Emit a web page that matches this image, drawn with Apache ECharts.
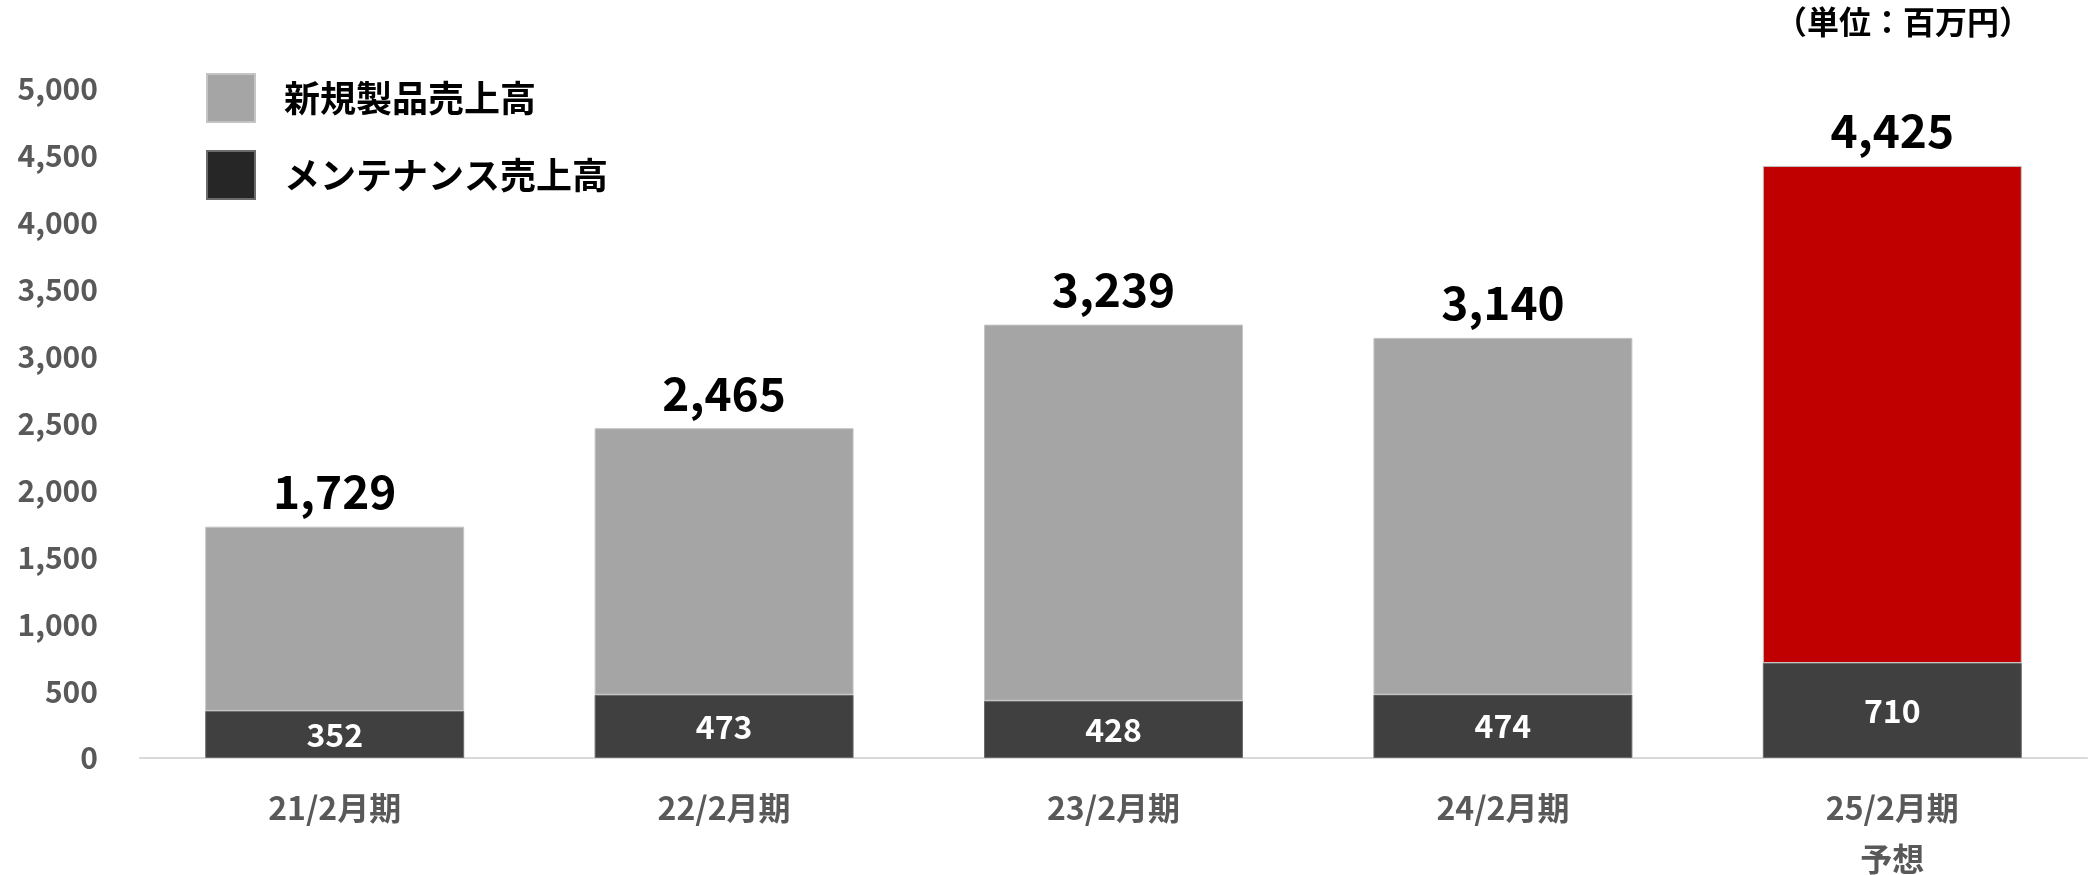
<!DOCTYPE html>
<html>
<head>
<meta charset="utf-8">
<script src="https://cdn.jsdelivr.net/npm/echarts@6/dist/echarts.min.js"></script>
<style>
html,body{margin:0;padding:0;background:#fff;}
#chart{width:2098px;height:875px;}
</style>
</head>
<body>
<div id="chart"></div>
<script>
const categories = ['21/2月期', '22/2月期', '23/2月期', '24/2月期', '25/2月期\n予想'];
const maintenanceSales = [352, 473, 428, 474, 710];
const newProductSales = [1377, 1992, 2811, 2666, 3715];
const totalLabels = ['1,729', '2,465', '3,239', '3,140', '4,425'];
const yTicks = { min: 0, max: 5000, interval: 500 };
const forecastIndex = 4;

const FONT = '"Noto Sans CJK JP", "Noto Sans", sans-serif';
const chart = echarts.init(document.getElementById('chart'), null, { renderer: 'canvas' });

const newData = newProductSales.map((v, i) => i === forecastIndex
  ? { value: v, itemStyle: { color: '#C00000' } }
  : v);

chart.setOption({
  animation: false,
  backgroundColor: '#ffffff',
  textStyle: { fontFamily: FONT },
  grid: { left: 140, right: 11, top: 89, bottom: 117, containLabel: false, outerBoundsMode: 'none' },
  title: {
    text: '（単位：百万円）',
    right: 62,
    top: 1,
    textStyle: { fontFamily: FONT, fontSize: 32, fontWeight: 'bold', color: '#000000' }
  },
  legend: {
    orient: 'vertical',
    left: 201,
    top: 68,
    itemWidth: 48,
    itemHeight: 48,
    itemGap: 27,
    icon: 'rect',
    textStyle: { fontFamily: FONT, fontSize: 36, fontWeight: 'bold', color: '#000000', padding: [0, 0, 0, 24] },
    data: [
      { name: '新規製品売上高', itemStyle: { color: '#A5A5A5' } },
      { name: 'メンテナンス売上高', itemStyle: { color: '#262626' } }
    ]
  },
  xAxis: {
    type: 'category',
    data: categories,
    axisLine: { show: true, lineStyle: { color: '#D9D9D9', width: 2 } },
    axisTick: { show: false },
    axisLabel: {
      margin: 24,
      fontFamily: FONT,
      fontSize: 32,
      fontWeight: 'bold',
      color: '#595959',
      lineHeight: 51
    }
  },
  yAxis: {
    type: 'value',
    min: yTicks.min,
    max: yTicks.max,
    interval: yTicks.interval,
    axisLine: { show: false },
    axisTick: { show: false },
    splitLine: { show: false },
    axisLabel: {
      margin: 42,
      fontFamily: FONT,
      fontSize: 30,
      fontWeight: 'bold',
      color: '#595959',
      formatter: v => v.toLocaleString('en-US')
    }
  },
  series: [
    {
      name: 'メンテナンス売上高',
      type: 'bar',
      stack: 'total',
      barWidth: '66.5%',
      data: maintenanceSales,
      itemStyle: { color: '#404040', borderColor: '#6a6a6a', borderWidth: 1 },
      label: {
        show: true,
        position: 'inside',
        fontFamily: FONT,
        fontSize: 32,
        fontWeight: 'bold',
        color: '#ffffff',
        formatter: p => p.value.toLocaleString('en-US')
      }
    },
    {
      name: '新規製品売上高',
      type: 'bar',
      stack: 'total',
      barWidth: '66.5%',
      data: newData,
      itemStyle: { color: '#A5A5A5', borderColor: '#c4c4c4', borderWidth: 1 },
      label: {
        show: true,
        position: 'top',
        distance: 12,
        fontFamily: FONT,
        fontSize: 46,
        fontWeight: 'bold',
        color: '#000000',
        formatter: p => totalLabels[p.dataIndex]
      }
    }
  ]
});
</script>
</body>
</html>
